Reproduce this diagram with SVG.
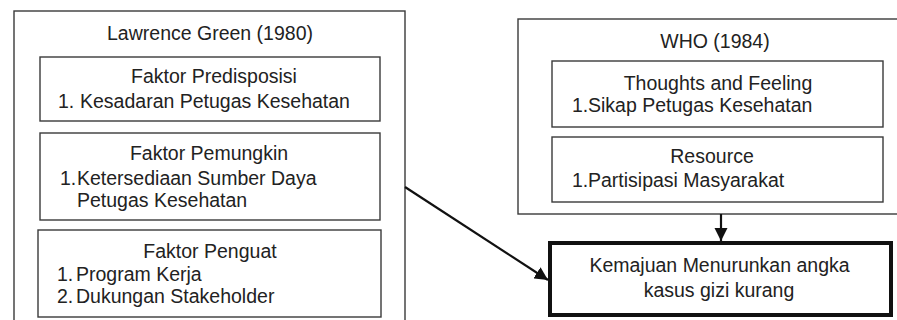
<svg xmlns="http://www.w3.org/2000/svg" width="897" height="320" viewBox="0 0 897 320">
<style>
  .box{fill:none;stroke:#3a3a3a;stroke-width:1.4}
  .thick{fill:#fff;stroke:#111;stroke-width:4}
  text{font-family:"Liberation Sans",Arial,sans-serif;font-size:19.5px;fill:#222}
  .c{text-anchor:middle}
  .con{stroke:#111;stroke-width:2.2;fill:none}
</style>
<defs>
  <marker id="ah" viewBox="0 0 10 10" refX="10" refY="5" markerWidth="6" markerHeight="6" orient="auto" markerUnits="strokeWidth">
    <path d="M0,0 L10,5 L0,10 z" fill="#111"/>
  </marker>
</defs>
<rect width="897" height="320" fill="#fff"/>

<g id="lawrence">
  <rect class="box" x="14" y="11" width="391" height="320"/>
  <text class="c" x="210" y="40">Lawrence Green (1980)</text>
</g>
<g id="predisposisi">
  <rect class="box" x="40" y="57" width="340" height="64"/>
  <text class="c" x="214" y="83">Faktor Predisposisi</text>
  <text x="58" y="108">1.</text><text x="80" y="108">Kesadaran Petugas Kesehatan</text>
</g>
<g id="pemungkin">
  <rect class="box" x="40" y="133" width="340" height="87"/>
  <text class="c" x="209" y="160">Faktor Pemungkin</text>
  <text x="60" y="185">1.</text><text x="77" y="185">Ketersediaan Sumber Daya</text>
  <text x="77" y="207">Petugas Kesehatan</text>
</g>
<g id="penguat">
  <rect class="box" x="38" y="230" width="343" height="87"/>
  <text class="c" x="210" y="258">Faktor Penguat</text>
  <text x="57" y="281">1.</text><text x="76" y="281">Program Kerja</text>
  <text x="57" y="303">2.</text><text x="76" y="303">Dukungan Stakeholder</text>
</g>

<g id="who">
  <rect class="box" x="518" y="19" width="390" height="195"/>
  <text class="c" x="715" y="48">WHO (1984)</text>
</g>
<g id="thoughts">
  <rect class="box" x="552" y="61" width="331" height="66"/>
  <text class="c" x="718" y="90">Thoughts and Feeling</text>
  <text x="572" y="112">1.</text><text x="588" y="112">Sikap Petugas Kesehatan</text>
</g>
<g id="resource">
  <rect class="box" x="552" y="137" width="331" height="65"/>
  <text class="c" x="712" y="163">Resource</text>
  <text x="572" y="187">1.</text><text x="588" y="187">Partisipasi Masyarakat</text>
</g>

<g id="outcome">
  <rect class="thick" x="550" y="243" width="341" height="72"/>
  <text class="c" x="719.5" y="272">Kemajuan Menurunkan angka</text>
  <text class="c" x="719" y="297">kasus gizi kurang</text>
</g>

<g id="connectors">
  <line class="con" x1="405" y1="187" x2="548" y2="280" marker-end="url(#ah)"/>
  <line class="con" x1="721" y1="214" x2="721" y2="241" marker-end="url(#ah)"/>
</g>
</svg>
